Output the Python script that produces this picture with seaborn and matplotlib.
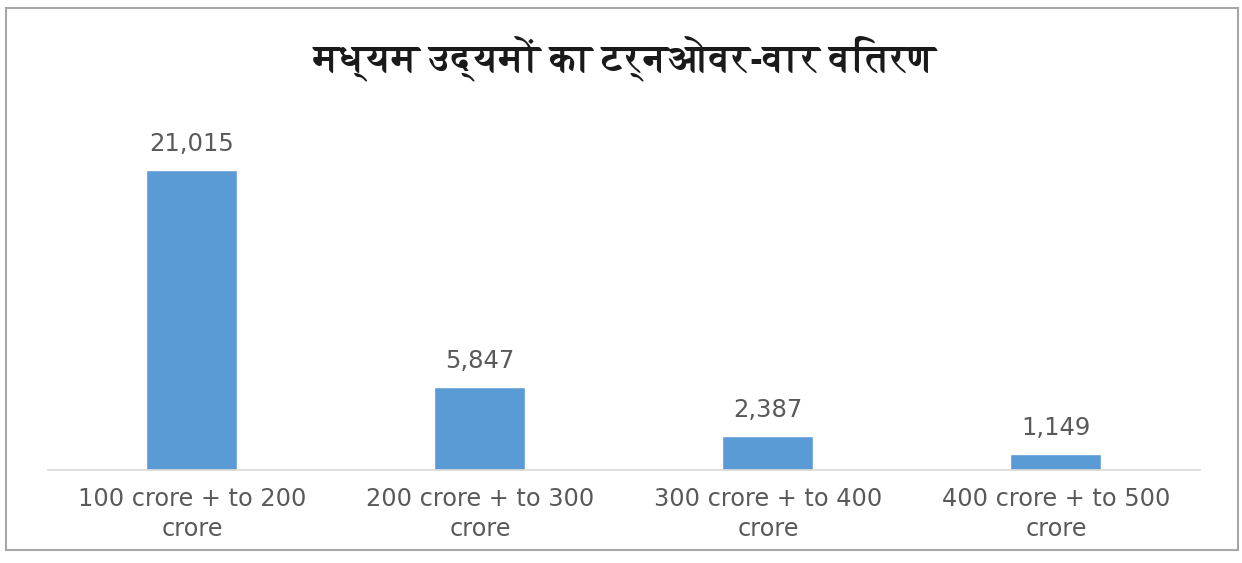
import matplotlib
matplotlib.use("Agg")
import matplotlib.pyplot as plt
from matplotlib import font_manager
from matplotlib.ft2font import FT2Font
from matplotlib.patches import Rectangle
import seaborn as sns
import pandas as pd

categories = [
    "100 crore + to 200\ncrore",
    "200 crore + to 300\ncrore",
    "300 crore + to 400\ncrore",
    "400 crore + to 500\ncrore",
]
counts = [21015, 5847, 2387, 1149]
title = "मध्यम उद्यमों का टर्नओवर-वार वितरण"

sns.set_theme(style="white")
plt.rcParams["font.family"] = ["DejaVu Sans"]


def devanagari_font():
    """Pick an installed font covering Devanagari, preferring a bold face."""
    found = []
    for f in font_manager.fontManager.ttflist:
        try:
            if 0x092E in FT2Font(f.fname).get_charmap():
                found.append(f)
        except Exception:
            continue
    if not found:
        return None
    def weight(f):
        w = f.weight
        if isinstance(w, str):
            w = font_manager.weight_dict.get(w, 400)
        return w
    found.sort(key=lambda f: (weight(f) < 600, abs(weight(f) - 700)))
    return found[0]


deva = devanagari_font()

df = pd.DataFrame({"category": categories, "count": counts})

fig = plt.figure(figsize=(12.42, 5.63), dpi=100)
ax = fig.add_axes([0.0386, 0.1652, 0.9275, 0.634])

sns.barplot(data=df, x="category", y="count", color="#5B9BD5",
            saturation=1, width=0.316, ax=ax)

ax.set_ylim(0, 25000)
ax.set_xlim(-0.5, 3.5)
for s in ["top", "right", "left"]:
    ax.spines[s].set_visible(False)
ax.spines["bottom"].set_color("#D9D9D9")
ax.spines["bottom"].set_linewidth(1.2)
ax.set_yticks([])
ax.set_xlabel("")
ax.set_ylabel("")
ax.tick_params(axis="x", length=0, pad=12, labelsize=17.3, labelcolor="#595959")
for lbl in ax.get_xticklabels():
    lbl.set_linespacing(1.33)

for i, v in enumerate(counts):
    ax.annotate(f"{v:,}", (i, v), xytext=(0, 10), textcoords="offset points",
                ha="center", va="bottom", fontsize=17.5, color="#595959")

if deva is not None:
    title_font = font_manager.FontProperties(fname=deva.fname, size=28,
                                             weight="bold")
else:
    title_font = font_manager.FontProperties(size=28, weight="bold")
fig.text(0.503, 0.897, title, ha="center", va="center",
         fontproperties=title_font, color="#1a1a1a")

fig.patches.append(Rectangle((6 / 1242, 1 - 550 / 563), 1232 / 1242, 542 / 563,
                             transform=fig.transFigure, fill=False,
                             edgecolor="#A6A6A6", linewidth=1.5))

fig.savefig("out.png", dpi=100, facecolor="white")
